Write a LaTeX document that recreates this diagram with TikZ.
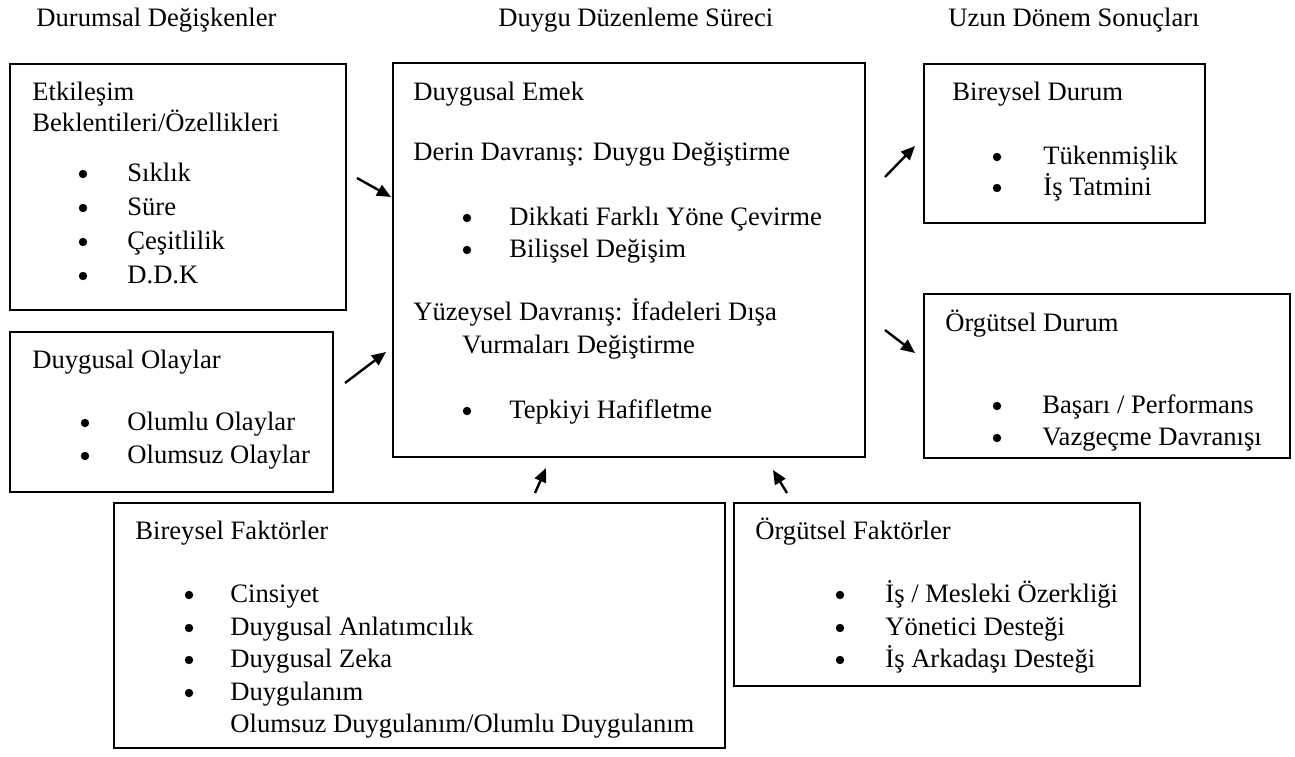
\documentclass[tikz,border=0pt]{standalone}
\usepackage{fontspec}
\setmainfont{Liberation Serif}
\usetikzlibrary{arrows.meta,fit}
\begin{document}
\begin{tikzpicture}[x=0.5pt,y=-0.5pt,
  box/.style={draw, line width=1pt, inner sep=0pt},
  txt/.style={anchor=west, inner sep=0pt, font=\fontsize{13.3}{16}\selectfont, text height=10pt, text depth=2pt},
  head/.style={txt},
  dot/.style={circle, fill, inner sep=0pt, minimum size=4.2pt},
  arr/.style={-{Triangle[length=7pt,width=6pt]}, line width=1.2pt}]
\useasboundingbox (0,0) rectangle (1295,756);

% column headings
\node[head] (h1) at (36,18) {Durumsal Değişkenler};
\node[head] (h2) at (498,18) {Duygu Düzenleme Süreci};
\node[head] (h3) at (948,18) {Uzun Dönem Sonuçları};

% situational variables
\node[box, fit={(10,64) (346,310)}] (b1) {};
\node[txt] (b1t1) at (32,92) {Etkileşim};
\node[txt] (b1t2) at (32,123) {Beklentileri/Özellikleri};
\node[dot] (b1d1) at (83,174) {};
\node[txt] (b1i1) at (127,173) {Sıklık};
\node[dot] (b1d2) at (83,208) {};
\node[txt] (b1i2) at (127,207) {Süre};
\node[dot] (b1d3) at (83,242) {};
\node[txt] (b1i3) at (127,241) {Çeşitlilik};
\node[dot] (b1d4) at (83,276) {};
\node[txt] (b1i4) at (127,275) {D.D.K};

\node[box, fit={(10,332) (333,492)}] (b2) {};
\node[txt] (b2t1) at (32,360) {Duygusal Olaylar};
\node[dot] (b2d1) at (85,423) {};
\node[txt] (b2i1) at (127,422) {Olumlu Olaylar};
\node[dot] (b2d2) at (85,456) {};
\node[txt] (b2i2) at (127,455) {Olumsuz Olaylar};

% regulation process
\node[box, fit={(393,63) (865,457)}] (c) {};
\node[txt] (ct1) at (413,92) {Duygusal Emek};
\node[txt] (ct2) at (413,152) {Derin Davranış: Duygu Değiştirme};
\node[dot] (cd1) at (467,218) {};
\node[txt] (ci1) at (509,217) {Dikkati Farklı Yöne Çevirme};
\node[dot] (cd2) at (467,250) {};
\node[txt] (ci2) at (509,249) {Bilişsel Değişim};
\node[txt] (ct3) at (413,312) {Yüzeysel Davranış: İfadeleri Dışa};
\node[txt] (ct4) at (462,345) {Vurmaları Değiştirme};
\node[dot] (cd3) at (467,411) {};
\node[txt] (ci3) at (509,410) {Tepkiyi Hafifletme};

% long term outcomes
\node[box, fit={(924,64) (1205,223)}] (r1) {};
\node[txt] (r1t1) at (952,92) {Bireysel Durum};
\node[dot] (r1d1) at (997,157) {};
\node[txt] (r1i1) at (1043,156) {Tükenmişlik};
\node[dot] (r1d2) at (997,188) {};
\node[txt] (r1i2) at (1043,187) {İş Tatmini};

\node[box, fit={(924,294) (1290,458)}] (r2) {};
\node[txt] (r2t1) at (945,323) {Örgütsel Durum};
\node[dot] (r2d1) at (997,406) {};
\node[txt] (r2i1) at (1042,405) {Başarı / Performans};
\node[dot] (r2d2) at (997,438) {};
\node[txt] (r2i2) at (1042,437) {Vazgeçme Davranışı};

% individual and organisational factors
\node[box, fit={(114,503) (725,748)}] (f1) {};
\node[txt] (f1t1) at (135,531) {Bireysel Faktörler};
\node[dot] (f1d1) at (189,595) {};
\node[txt] (f1i1) at (230,594) {Cinsiyet};
\node[dot] (f1d2) at (189,628) {};
\node[txt] (f1i2) at (230,627) {Duygusal Anlatımcılık};
\node[dot] (f1d3) at (189,660) {};
\node[txt] (f1i3) at (230,659) {Duygusal Zeka};
\node[dot] (f1d4) at (189,693) {};
\node[txt] (f1i4) at (230,692) {Duygulanım};
\node[txt] (f1i5) at (230,724) {Olumsuz Duygulanım/Olumlu Duygulanım};

\node[box, fit={(734,503) (1140,686)}] (f2) {};
\node[txt] (f2t1) at (755,531) {Örgütsel Faktörler};
\node[dot] (f2d1) at (840,595) {};
\node[txt] (f2i1) at (885,594) {İş / Mesleki Özerkliği};
\node[dot] (f2d2) at (840,628) {};
\node[txt] (f2i2) at (885,627) {Yönetici Desteği};
\node[dot] (f2d3) at (840,660) {};
\node[txt] (f2i3) at (885,659) {İş Arkadaşı Desteği};

% arrows
\coordinate (a1s) at (357,178); \coordinate (a1e) at (391,197);
\coordinate (a2s) at (345,383); \coordinate (a2e) at (386,352);
\coordinate (a3s) at (885,177); \coordinate (a3e) at (915,146);
\coordinate (a4s) at (885,330); \coordinate (a4e) at (915,353);
\coordinate (a5s) at (535,493); \coordinate (a5e) at (546,468);
\coordinate (a6s) at (787,493); \coordinate (a6e) at (773,470);
\draw[arr] (a1s) -- (a1e);
\draw[arr] (a2s) -- (a2e);
\draw[arr] (a3s) -- (a3e);
\draw[arr] (a4s) -- (a4e);
\draw[arr] (a5s) -- (a5e);
\draw[arr] (a6s) -- (a6e);
\end{tikzpicture}
\end{document}
